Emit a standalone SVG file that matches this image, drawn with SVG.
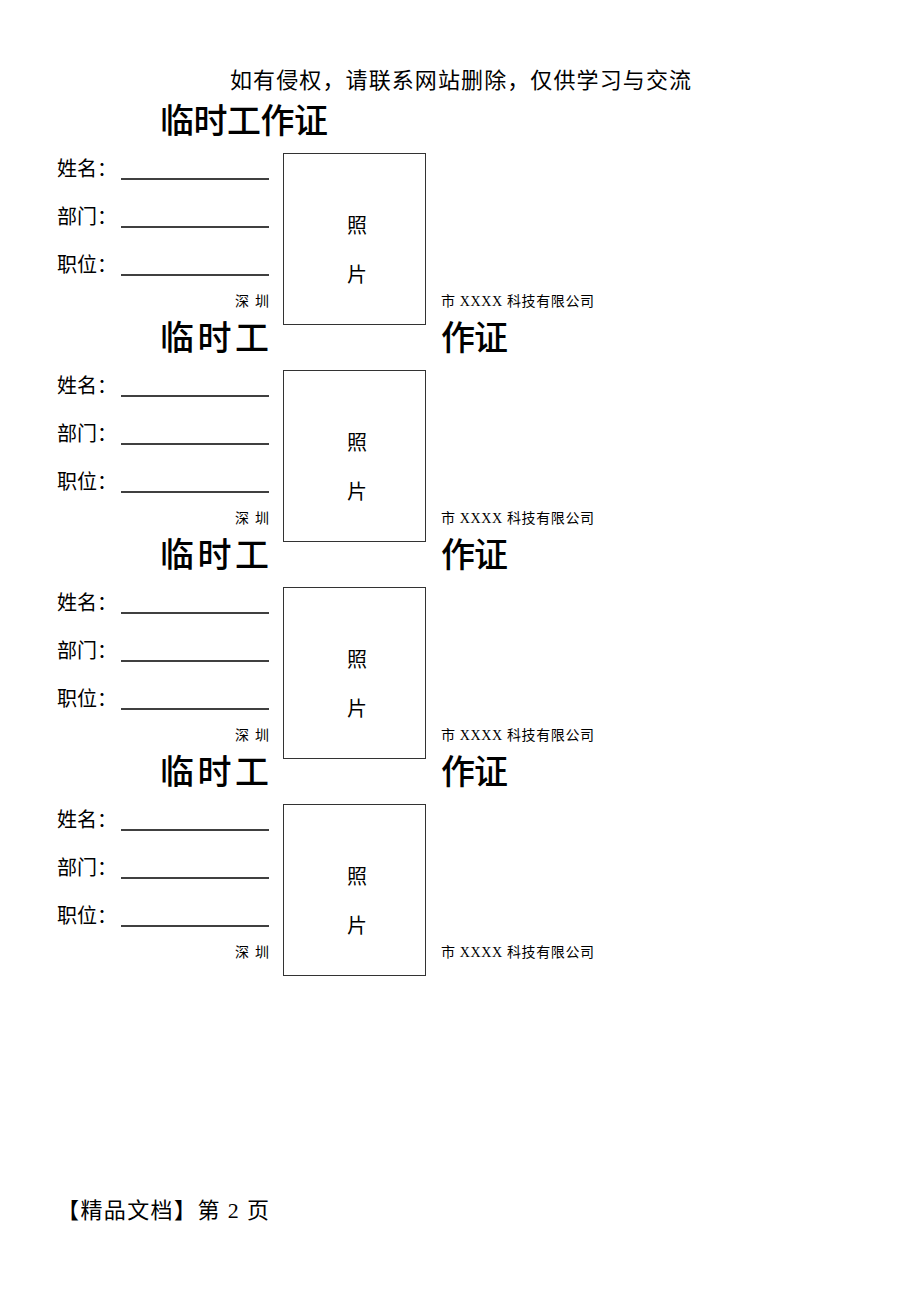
<svg xmlns="http://www.w3.org/2000/svg" width="920" height="1302" viewBox="0 0 920 1302">
<style>
text{font-family:"Liberation Serif","Noto Sans CJK SC",serif;fill:#000}
.hd{font-size:22px}
.t{font-size:34px;font-weight:500;font-family:"Noto Sans CJK SC",sans-serif}
.lb{font-size:20px}
.ph{font-size:20px;text-anchor:middle}
.sm{font-size:14px}
.ln{stroke:#000;stroke-width:1.3}
.box{fill:none;stroke:#333;stroke-width:1}
</style>
<rect width="920" height="1302" fill="#fff"/>
<text class="hd" x="230" y="88" textLength="461">如有侵权，请联系网站删除，仅供学习与交流</text>
<text class="t" x="160" y="133" textLength="168">临时工作证</text>
<g id="card1">
<text class="lb" x="57" y="176">姓名：</text>
<line class="ln" x1="121" y1="179" x2="269" y2="179"/>
<text class="lb" x="57" y="224">部门：</text>
<line class="ln" x1="121" y1="227" x2="269" y2="227"/>
<text class="lb" x="57" y="272">职位：</text>
<line class="ln" x1="121" y1="275" x2="269" y2="275"/>
<rect class="box" x="283.5" y="153.5" width="142" height="171"/>
<text class="ph" x="357" y="233">照</text>
<text class="ph" x="357" y="282">片</text>
<text class="sm" x="235" y="306" textLength="34">深 圳</text>
<text class="sm" x="441" y="306" textLength="153">市 XXXX 科技有限公司</text>
</g>
<g id="title2"><text class="t" x="160" y="350" textLength="109">临时工</text><text class="t" x="441" y="350" textLength="67">作证</text></g>
<g id="card2" transform="translate(0,217)">
<text class="lb" x="57" y="176">姓名：</text>
<line class="ln" x1="121" y1="179" x2="269" y2="179"/>
<text class="lb" x="57" y="224">部门：</text>
<line class="ln" x1="121" y1="227" x2="269" y2="227"/>
<text class="lb" x="57" y="272">职位：</text>
<line class="ln" x1="121" y1="275" x2="269" y2="275"/>
<rect class="box" x="283.5" y="153.5" width="142" height="171"/>
<text class="ph" x="357" y="233">照</text>
<text class="ph" x="357" y="282">片</text>
<text class="sm" x="235" y="306" textLength="34">深 圳</text>
<text class="sm" x="441" y="306" textLength="153">市 XXXX 科技有限公司</text>
</g>
<g id="title3"><text class="t" x="160" y="567" textLength="109">临时工</text><text class="t" x="441" y="567" textLength="67">作证</text></g>
<g id="card3" transform="translate(0,434)">
<text class="lb" x="57" y="176">姓名：</text>
<line class="ln" x1="121" y1="179" x2="269" y2="179"/>
<text class="lb" x="57" y="224">部门：</text>
<line class="ln" x1="121" y1="227" x2="269" y2="227"/>
<text class="lb" x="57" y="272">职位：</text>
<line class="ln" x1="121" y1="275" x2="269" y2="275"/>
<rect class="box" x="283.5" y="153.5" width="142" height="171"/>
<text class="ph" x="357" y="233">照</text>
<text class="ph" x="357" y="282">片</text>
<text class="sm" x="235" y="306" textLength="34">深 圳</text>
<text class="sm" x="441" y="306" textLength="153">市 XXXX 科技有限公司</text>
</g>
<g id="title4"><text class="t" x="160" y="784" textLength="109">临时工</text><text class="t" x="441" y="784" textLength="67">作证</text></g>
<g id="card4" transform="translate(0,651)">
<text class="lb" x="57" y="176">姓名：</text>
<line class="ln" x1="121" y1="179" x2="269" y2="179"/>
<text class="lb" x="57" y="224">部门：</text>
<line class="ln" x1="121" y1="227" x2="269" y2="227"/>
<text class="lb" x="57" y="272">职位：</text>
<line class="ln" x1="121" y1="275" x2="269" y2="275"/>
<rect class="box" x="283.5" y="153.5" width="142" height="171"/>
<text class="ph" x="357" y="233">照</text>
<text class="ph" x="357" y="282">片</text>
<text class="sm" x="235" y="306" textLength="34">深 圳</text>
<text class="sm" x="441" y="306" textLength="153">市 XXXX 科技有限公司</text>
</g>
<text class="hd" x="57" y="1218" textLength="212">【精品文档】第 2 页</text>
</svg>
